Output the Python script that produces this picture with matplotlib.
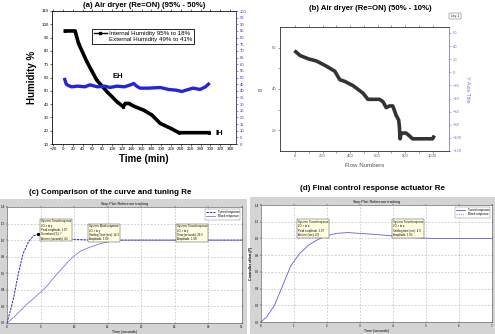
import matplotlib
matplotlib.use("Agg")
import matplotlib.pyplot as plt
from matplotlib.lines import Line2D
from matplotlib.patches import Rectangle

plt.rcParams['font.family'] = ['Liberation Sans', 'DejaVu Sans']

# (a) internal / external humidity vs time (min)
ih_time = [5, 25, 32, 49, 69, 90, 110, 123, 127, 134, 144, 164, 181, 198, 219, 236, 297]
ih_vals = [95, 95, 85.5, 71.8, 58, 49.3, 41.8, 38, 40.5, 40.5, 38.5, 35.5, 31.8, 25.5, 21.8, 18.5, 18.5]
eh_time = [4, 7, 11, 18, 30, 45, 55, 70, 85, 96, 110, 125, 138, 144, 150, 157, 175,
           198, 215, 230, 242, 255, 265, 279, 290, 296]
eh_vals = [58.5, 55, 54, 53, 53.5, 53, 54.5, 53, 53.5, 52.5, 53.5, 53, 54.5, 55.5, 53.5, 52, 52,
           52.5, 51, 50.5, 49.5, 51, 52, 51, 53, 55]

# (b) humidity vs row numbers
row_num = [5, 36, 96, 157, 229, 289, 325, 361, 422, 494, 530, 614, 639, 663, 687, 711,
           735, 754, 759, 764, 771, 783, 807, 827, 855, 1000, 1007]
row_hum = [58, 56.2, 54.6, 53.5, 51, 48.6, 44.5, 43.7, 41.6, 38, 35, 35, 33.9, 31, 31.8, 31.8,
           27.3, 24.9, 21.6, 15.9, 18.4, 18.7, 18.7, 17.6, 15.9, 15.9, 16.7]

# (c) step responses
tuned_t = [0, 0.5, 1.0, 1.7, 2.4, 3.2, 3.9, 4.6, 5.4, 6.8, 8.3, 9.8, 12.7, 20, 35]
tuned_y = [0, 0.15, 0.31, 0.6, 0.84, 0.98, 1.05, 1.07, 1.07, 1.04, 1.02, 1.01, 1.0, 1.0, 1.0]
block_t = [0, 1, 2, 3, 4, 5, 6, 7, 8, 9, 10, 11, 12.5, 14, 16.3, 20, 35]
block_y = [0, 0.07, 0.15, 0.23, 0.3, 0.37, 0.45, 0.55, 0.64, 0.73, 0.81, 0.87, 0.92, 0.96, 1.0, 1.0, 1.0]

# (d) final control response
final_t = [0, 0.17, 0.41, 0.66, 0.9, 1.15, 1.44, 1.74, 1.98, 2.27, 2.62, 3.01, 3.4, 3.99, 4.58, 5.17, 5.75, 7]
final_y = [0, 0.06, 0.2, 0.44, 0.67, 0.81, 0.92, 0.99, 1.03, 1.06, 1.07, 1.06, 1.05, 1.03, 1.01, 1.0, 1.0, 1.0]

W, H = 495, 334


def rect(l, t, r, b):
    return [l / W, 1 - b / H, (r - l) / W, (b - t) / H]


fig = plt.figure(figsize=(4.95, 3.34), dpi=100)

# ---------------- (a) ----------------
axa = fig.add_axes(rect(52, 11, 236, 144))
axa.plot(ih_time, ih_vals, color='black', lw=2.6, marker='s', ms=1.2)
axa.plot(eh_time, eh_vals, color='#2424dd', lw=2.4)
axa.set_xlim(-22, 352)
axa.set_ylim(10, 110)
axa.set_xticks(range(-20, 341, 20))
axa.set_yticks(range(10, 111, 10))
axa.tick_params(labelsize=3.2, length=1.5, width=0.4, pad=1, top=True, direction='out')
for s in axa.spines.values():
    s.set_linewidth(0.4)
axa.set_xlabel('Time (min)', fontsize=7, fontweight='bold', labelpad=2)
axa.set_ylabel('Humidity %', fontsize=7, fontweight='bold', labelpad=3)
axa.set_title('(a) Air dryer (Re=ON) (95% - 50%)', fontsize=5.6, fontweight='bold', pad=3)
axa.text(100, 60, 'EH', fontsize=5.5, fontweight='bold')
axa.text(310, 18, 'IH', fontsize=5.5, fontweight='bold', va='center')
handles = [Line2D([], [], color='black', marker='s', ms=1.5, lw=1),
           Line2D([], [], color='none')]
leg = axa.legend(handles, ['Internal Humidity 95% to 18%', 'External Humidity 49% to 41%'],
                 loc='upper left', bbox_to_anchor=(0.2, 0.89), fontsize=4.4, fancybox=False,
                 edgecolor='black', framealpha=1, handlelength=2.2, borderpad=0.3,
                 labelspacing=0.2, handletextpad=0.3)
leg.get_frame().set_linewidth(0.6)
axa2 = axa.twinx()
axa2.set_ylim(0, 100)
axa2.set_yticks(range(0, 101, 5))
axa2.tick_params(labelsize=3, length=1.5, width=0.4, pad=1, colors='#3333cc')
axa2.spines['right'].set_color('#3333cc')
for s in axa2.spines.values():
    s.set_linewidth(0.4)

# ---------------- (b) ----------------
axb = fig.add_axes(rect(280, 27, 449, 151))
axb.plot(row_num, row_hum, color='#333333', lw=2.6)
axb.set_xlim(-110, 1120)
axb.set_ylim(10, 70)
axb.set_xticks(range(0, 1001, 200))
axb.set_xticks(range(100, 1001, 200), minor=True)
axb.set_yticks([20, 40, 60])
axb.set_yticks([30, 50], minor=True)
axb.tick_params(which='both', labelsize=3, length=1.5, width=0.4, pad=1, colors='#555555', top=True)
for s in axb.spines.values():
    s.set_linewidth(0.4)
    s.set_color('#777777')
axb.set_xlabel('Row Numbers', fontsize=4.5, color='#555555', labelpad=3)
axb.set_ylabel('B', fontsize=3.5, color='#555555', labelpad=6)
fig.text(370 / W, 1 - 8 / H, '(b) Air dryer (Re=ON) (50% - 10%)',
         fontsize=5.6, fontweight='bold', ha='center', va='center')
axb2 = axb.twinx()
axb2.set_ylim(-120, 69)
axb2.set_yticks(range(-120, 61, 20))
axb2.tick_params(labelsize=3, length=1.5, width=0.4, pad=1, colors='#8080d0')
axb2.spines['right'].set_color('#8080d0')
for s in axb2.spines.values():
    s.set_linewidth(0.4)
axb2.set_ylabel('Y Axis Title', fontsize=4, color='#8080d0', rotation=270, labelpad=6)
fig.text(455 / W, 1 - 16 / H, 'Lay.1', fontsize=2.8, ha='center', va='center', color='#333333',
         bbox=dict(boxstyle='square,pad=0.2', fc='white', ec='#555555', lw=0.3))


def matlab_frame(x0, y0, x1, y1):
    fig.add_artist(Rectangle((x0 / W, 1 - y1 / H), (x1 - x0) / W, (y1 - y0) / H,
                             transform=fig.transFigure, fc='#d4d4d4', ec='none', zorder=0))


def tip(ax, x, y, txt):
    ax.text(x, y, txt, fontsize=2, va='top', ha='left', linespacing=1.1,
            bbox=dict(boxstyle='square,pad=0.3', fc='#ffffe0', ec='#333333', lw=0.3))


def style_matlab(ax):
    ax.grid(True, ls=(0, (3, 3)), color='#aaaaaa', lw=0.4)
    ax.tick_params(labelsize=2.2, length=1, width=0.3, pad=0.5, top=True, right=True)
    for s in ax.spines.values():
        s.set_linewidth(0.4)
        s.set_color('#555555')


# ---------------- (c) ----------------
matlab_frame(0, 199, 247, 334)
fig.text(110 / W, 1 - 193 / H, '(c) Comparison of the curve and tuning Re',
         fontsize=5.8, fontweight='bold', ha='center', va='center')
axc = fig.add_axes(rect(7, 207, 242, 323))
axc.plot(tuned_t, tuned_y, color='#2a2ab0', lw=0.7, ls=(0, (2.5, 1)), label='Tuned response')
axc.plot(block_t, block_y, color='#7a7ae6', lw=0.6, label='Block response')
axc.plot([4.6, 16.3, 29.3], [1.07, 1.0, 1.0], 's', color='black', ms=1.2)
axc.set_xlim(0, 35)
axc.set_ylim(0, 1.4)
axc.set_xticks(range(0, 36, 5))
axc.set_yticks([0, 0.2, 0.4, 0.6, 0.8, 1.0, 1.2, 1.4])
style_matlab(axc)
axc.set_title('Step Plot: Reference tracking', fontsize=2.6, pad=1.5)
axc.set_xlabel('Time (seconds)', fontsize=2.6, labelpad=0.5)
lc = axc.legend(loc='upper right', fontsize=2.2, fancybox=False, edgecolor='#555555',
                handlelength=3, borderpad=0.4, labelspacing=0.2)
lc.get_frame().set_linewidth(0.3)
tip(axc, 5.0, 1.25, 'System: Tuned response\nI/O: r to y\nPeak amplitude: 1.07\nOvershoot (%): 7\nAt time (seconds): 4.6')
tip(axc, 12.2, 1.19, 'System: Block response\nI/O: r to y\nSettling Time (sec): 16.3\nAmplitude: 1.00')
tip(axc, 25.3, 1.19, 'System: Tuned response\nI/O: r to y\nTime (seconds): 29.3\nAmplitude: 1.00')

# ---------------- (d) ----------------
matlab_frame(250, 197, 495, 334)
fig.text(372 / W, 1 - 189 / H, '(d) Final control response actuator Re',
         fontsize=5.8, fontweight='bold', ha='center', va='center')
axd = fig.add_axes(rect(261, 205, 492, 322))
axd.plot(final_t, final_y, color='#5c5ce0', lw=0.6, label='Tuned response')
axd.plot([], [], color='#5c5ce0', lw=0.6, ls=':', label='Block response')
axd.plot([1.98, 3.99], [1.03, 1.03], 's', color='black', ms=1.2)
axd.set_xlim(0, 7)
axd.set_ylim(0, 1.4)
axd.set_xticks(range(0, 8))
axd.set_yticks([0, 0.2, 0.4, 0.6, 0.8, 1.0, 1.2, 1.4])
style_matlab(axd)
axd.set_title('Step Plot: Reference tracking', fontsize=2.6, pad=1.5)
axd.set_xlabel('Time (seconds)', fontsize=2.6, labelpad=0.5)
axd.set_ylabel('Controller effort (P)', fontsize=2.6, fontweight='bold', labelpad=1)
ld = axd.legend(loc='upper right', fontsize=2.2, fancybox=False, edgecolor='#555555',
                handlelength=3, borderpad=0.4, labelspacing=0.2)
ld.get_frame().set_linewidth(0.3)
tip(axd, 1.13, 1.22, 'System: Tuned response\nI/O: r to u\nPeak amplitude: 1.07\nAt time (sec): 2.0')
tip(axd, 4.0, 1.22, 'System: Tuned response\nI/O: r to u\nSettling time (sec): 4.0\nAmplitude: 1.03')

fig.savefig('out.png', dpi=100)
